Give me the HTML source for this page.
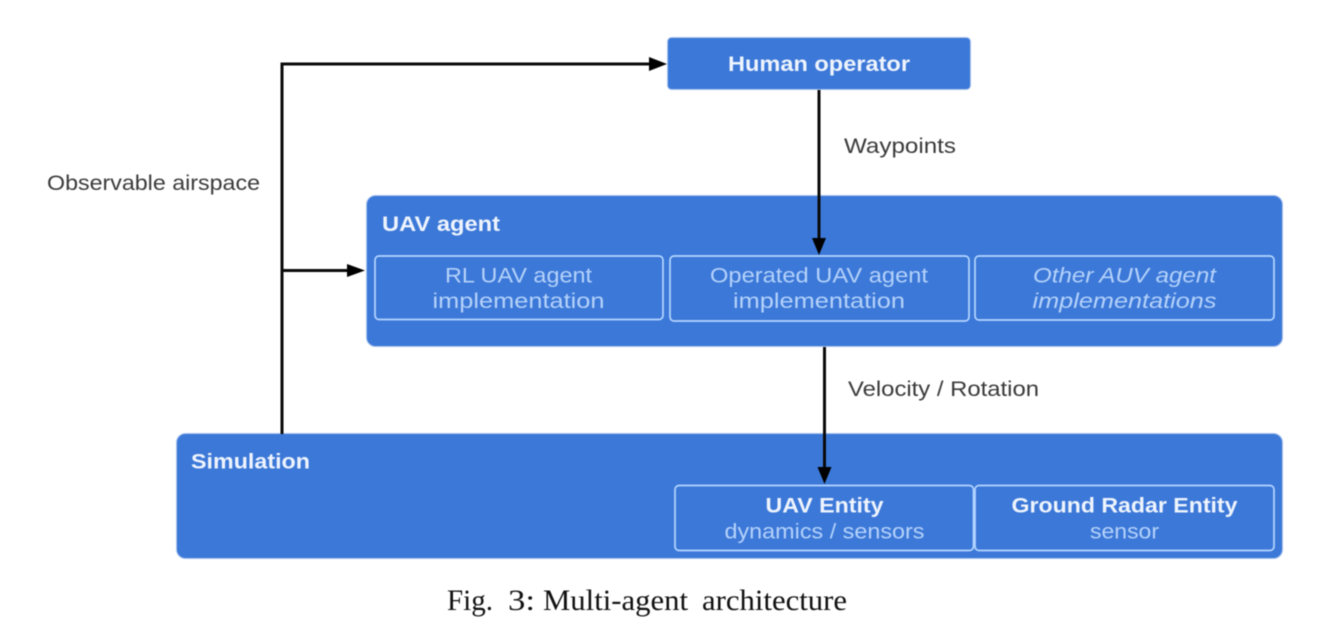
<!DOCTYPE html>
<html><head><meta charset="utf-8"><style>
html,body{margin:0;padding:0;background:#fff;width:1320px;height:628px;overflow:hidden}
svg{display:block;filter:blur(0.4px)}
text{font-family:"Liberation Sans","DejaVu Sans",sans-serif}
</style></head><body>
<svg width="1320" height="628" viewBox="0 0 1320 628" xmlns="http://www.w3.org/2000/svg">
<rect width="1320" height="628" fill="#fff"/>
<g fill="#3c78d8" stroke="#a9c4ee" stroke-width="1">
<rect x="667.5" y="37.5" width="303" height="52" rx="4"/>
<rect x="366.5" y="195.5" width="916" height="151" rx="9"/>
<rect x="176.5" y="433.5" width="1106" height="125" rx="9"/>
</g>
<g fill="none" stroke="#b4d6ff" stroke-width="1.7">
<rect x="375" y="256" width="288" height="63.5" rx="4"/>
<rect x="670" y="256" width="299" height="65" rx="4"/>
<rect x="975" y="256" width="299" height="64" rx="4"/>
<rect x="675" y="485.5" width="298.5" height="65" rx="4"/>
<rect x="975" y="485.5" width="299" height="65" rx="4"/>
</g>
<g stroke="#0a0a0a" stroke-width="3" fill="none">
<polyline points="282,434 282,64 654,64"/>
<line x1="282" y1="270.500" x2="350" y2="270.500"/>
<line x1="819" y1="90" x2="819" y2="242"/>
<line x1="824.500" y1="347" x2="824.500" y2="470"/>
</g>
<g fill="#000">
<polygon points="667,64 649,57 649,71"/>
<polygon points="365,270.500 347,264 347,277"/>
<polygon points="819,255 812,238 826,238"/>
<polygon points="824.500,484 817.500,467 831.500,467"/>
</g>
<g font-size="21" font-weight="700" fill="#eef4fd">
<text x="819" y="71" text-anchor="middle" textLength="182" lengthAdjust="spacingAndGlyphs">Human operator</text>
<text x="382" y="231" textLength="118" lengthAdjust="spacingAndGlyphs">UAV agent</text>
<text x="191" y="468.500" textLength="119" lengthAdjust="spacingAndGlyphs">Simulation</text>
<text x="824.500" y="512.500" text-anchor="middle" textLength="118" lengthAdjust="spacingAndGlyphs">UAV Entity</text>
<text x="1124.500" y="512.500" text-anchor="middle" textLength="226" lengthAdjust="spacingAndGlyphs">Ground Radar Entity</text>
</g>
<g font-size="21" fill="#b4d2fa">
<text x="518.500" y="282.500" text-anchor="middle" textLength="147" lengthAdjust="spacingAndGlyphs">RL UAV agent</text>
<text x="518.500" y="308" text-anchor="middle" textLength="172" lengthAdjust="spacingAndGlyphs">implementation</text>
<text x="819" y="282.500" text-anchor="middle" textLength="218" lengthAdjust="spacingAndGlyphs">Operated UAV agent</text>
<text x="819" y="308" text-anchor="middle" textLength="172" lengthAdjust="spacingAndGlyphs">implementation</text>
<text x="1124.500" y="282.500" text-anchor="middle" font-style="italic" textLength="183" lengthAdjust="spacingAndGlyphs">Other AUV agent</text>
<text x="1124.500" y="308" text-anchor="middle" font-style="italic" textLength="184" lengthAdjust="spacingAndGlyphs">implementations</text>
<text x="824.500" y="538.500" text-anchor="middle" textLength="200" lengthAdjust="spacingAndGlyphs">dynamics / sensors</text>
<text x="1124.500" y="538.500" text-anchor="middle" textLength="69" lengthAdjust="spacingAndGlyphs">sensor</text>
</g>
<g font-size="21" fill="#3a3a3a">
<text x="47" y="190" textLength="213" lengthAdjust="spacingAndGlyphs">Observable airspace</text>
<text x="844" y="153" textLength="112" lengthAdjust="spacingAndGlyphs">Waypoints</text>
<text x="848" y="396" textLength="191" lengthAdjust="spacingAndGlyphs">Velocity / Rotation</text>
</g>
<g font-size="30" fill="#111" style="font-family:'Liberation Serif',serif">
<text x="447" y="610" style="font-family:'Liberation Serif',serif" textLength="46" lengthAdjust="spacingAndGlyphs">Fig.</text>
<text x="508" y="610" style="font-family:'Liberation Serif',serif" textLength="27" lengthAdjust="spacingAndGlyphs">3:</text>
<text x="543" y="610" style="font-family:'Liberation Serif',serif" textLength="145" lengthAdjust="spacingAndGlyphs">Multi-agent</text>
<text x="702" y="610" style="font-family:'Liberation Serif',serif" textLength="145" lengthAdjust="spacingAndGlyphs">architecture</text>
</g>
</svg>
</body></html>
